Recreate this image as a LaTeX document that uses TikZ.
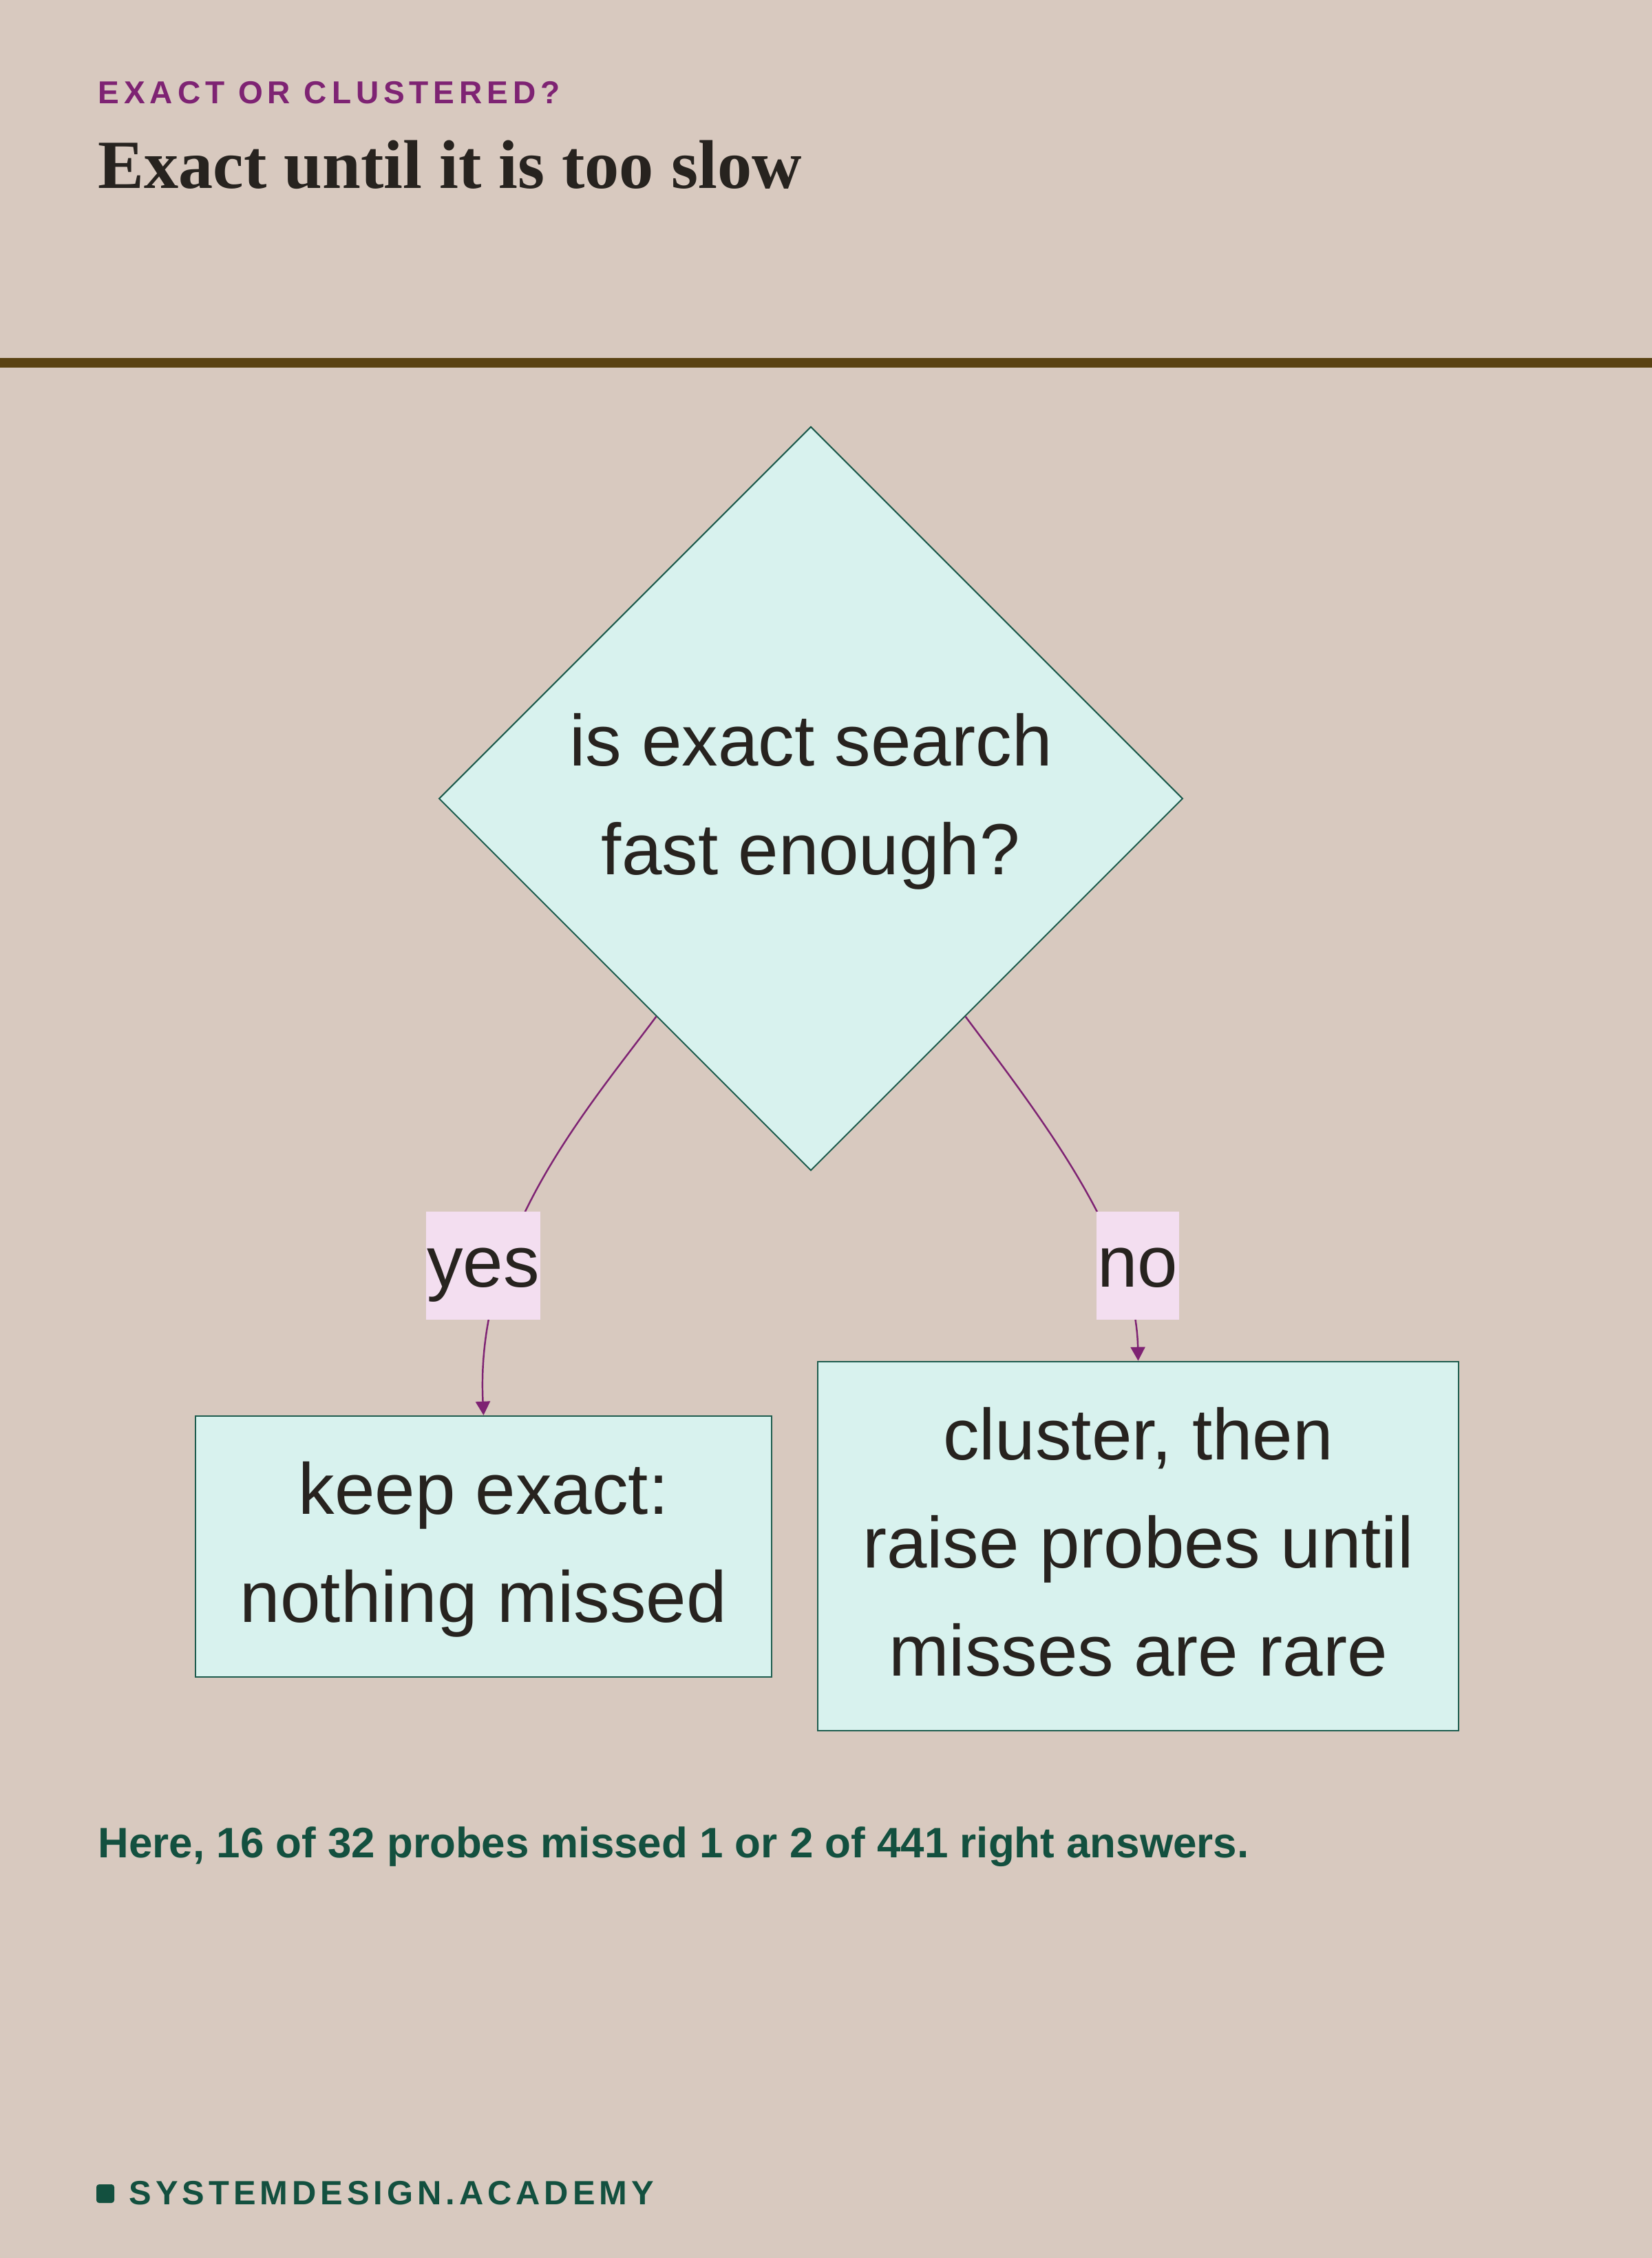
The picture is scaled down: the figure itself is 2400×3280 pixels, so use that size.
\documentclass[tikz,border=0pt]{standalone}
\usepackage{fontspec}
\usepackage{tikz}
\usetikzlibrary{shapes.geometric,arrows.meta,calc}
\setmainfont{Liberation Sans}
\newfontfamily\titlefont{Liberation Serif}
\newfontfamily\kickerfont[LetterSpace=15]{Liberation Sans}
\newfontfamily\brandfont[LetterSpace=12.2]{Liberation Sans}
\newcommand\boxfont{\fontsize{29.9pt}{44.7pt}\selectfont}

\definecolor{paper}{HTML}{D8C9BF}
\definecolor{mint}{HTML}{D8F2EE}
\definecolor{pine}{HTML}{1E5C4E}
\definecolor{plum}{HTML}{7E2373}
\definecolor{blush}{HTML}{F3DEF0}
\definecolor{ink}{HTML}{27231F}
\definecolor{forest}{HTML}{13503F}
\definecolor{bark}{HTML}{5A4212}

\tikzset{
  question/.style={diamond, aspect=1, draw=pine, line width=0.57pt, fill=mint,
    minimum width=10.8cm, minimum height=10.8cm, inner sep=0pt,
    align=center, font=\boxfont, text=ink},
  answer/.style={rectangle, draw=pine, line width=0.57pt, fill=mint,
    inner xsep=0.65cm, inner ysep=0.325cm, align=center, font=\boxfont, text=ink},
  branch/.style={fill=blush, inner xsep=0.015cm, inner ysep=0pt, font=\boxfont, text=ink},
  flow/.style={draw=plum, line width=0.7pt, -{Triangle[length=0.2cm,width=0.21cm]}},
}

\begin{document}
\begin{tikzpicture}[x=0.01cm,y=-0.01cm]
\useasboundingbox (0,0) rectangle (2400,3280);
\fill[paper] (0,0) rectangle (2400,3280);
% header
\node[anchor=base west, inner sep=0pt, text=plum, font=\kickerfont\bfseries\fontsize{13.1pt}{16pt}\selectfont] (kicker) at (142,150) {EXACT OR CLUSTERED?};
\node[anchor=base west, inner sep=0pt, text=ink, font=\titlefont\bfseries\fontsize{28.5pt}{34pt}\selectfont] (title) at (142,273) {Exact until it is too slow};
\fill[bark] (0,520) rectangle (2400,534);
% decision
\node[question] (q) at (1178,1160) {\strut is exact search\\\strut fast enough?};
\node[answer] (keep) at (702.5,2246.5) {\strut keep exact:\\\strut nothing missed};
\node[answer] (cluster) at (1653.5,2246) {\strut cluster, then\\\strut raise probes until\\\strut misses are rare};
% branches
\draw[flow] ($(q.west)!0.585!(q.south)$) .. controls (846,1620) and (690,1800) .. (keep.north);
\draw[flow] ($(q.east)!0.585!(q.south)$) .. controls (1510,1620) and (1650,1800) .. (cluster.north);
\node[branch] (yes) at (702,1838.5) {\strut yes};
\node[branch] (no) at (1653,1838.5) {\strut no};
% footer
\node[anchor=base west, inner sep=0pt, text=forest, font=\bfseries\fontsize{17.6pt}{21pt}\selectfont] (note) at (142,2698) {Here, 16 of 32 probes missed 1 or 2 of 441 right answers.};
\fill[forest, rounded corners=0.04cm] (140,3173) rectangle (166,3200);
\node[anchor=base west, inner sep=0pt, text=forest, font=\brandfont\bfseries\fontsize{13.9pt}{17pt}\selectfont] (brand) at (187,3202) {SYSTEMDESIGN.ACADEMY};
\end{tikzpicture}
\end{document}
